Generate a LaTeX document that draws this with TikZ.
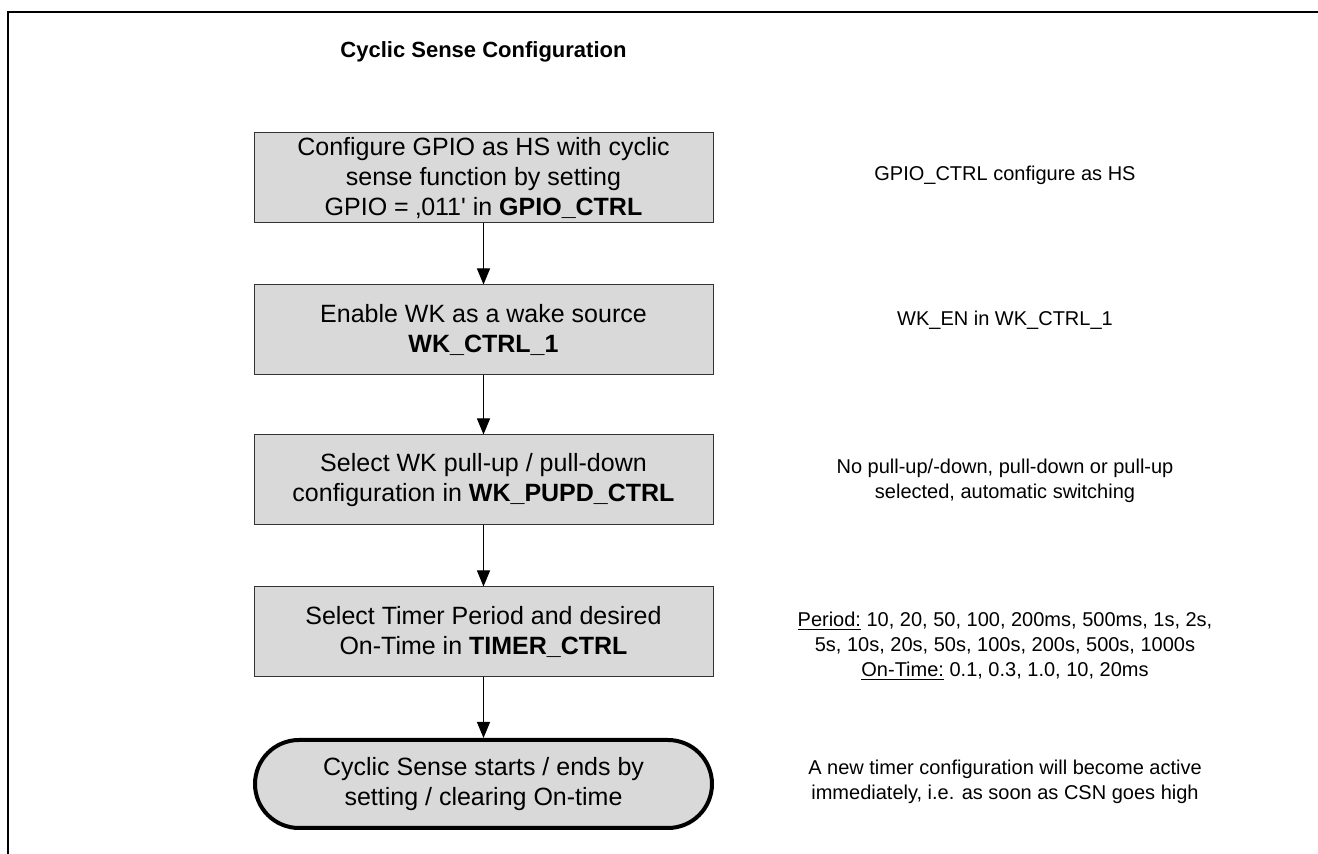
\documentclass[tikz,border=0pt]{standalone}
\usepackage{fontspec}
\setmainfont{Liberation Sans}
\usetikzlibrary{arrows.meta}
\begin{document}
\begin{tikzpicture}[x=0.5pt,y=-0.5pt,
  etape/.style={draw=black!80,fill=black!15,line width=0.5pt,minimum width=229.5pt,minimum height=45pt,inner sep=0pt,align=center,font=\fontsize{12.5}{15}\selectfont},
  fin/.style={etape,draw=black,line width=2pt,rounded corners=22pt,minimum width=228.5pt,minimum height=44pt},
  note/.style={align=center,font=\fontsize{10}{12.5}\selectfont},
  fleche/.style={-{Triangle[length=8pt,width=6.5pt]},line width=0.5pt}]

\useasboundingbox (0,0) rectangle (1318,854);

% cadre
\draw[line width=0.6pt] (1318,12) -- (8,12) -- (8,854);

\node[font=\bfseries\fontsize{11}{13}\selectfont] (titre) at (483.5,52) {Cyclic Sense Configuration};

% etapes (a gauche)
\node[etape] (gpio) at (483.5,178) {Configure GPIO as HS with cyclic\\sense function by setting\\GPIO = ‚011\textquotesingle{} in \textbf{GPIO\_CTRL}};
\node[etape] (wk) at (483.5,330) {Enable WK as a wake source\\\textbf{WK\_CTRL\_1}};
\node[etape] (pupd) at (483.5,480) {Select WK pull-up / pull-down\\configuration in \textbf{WK\_PUPD\_CTRL}};
\node[etape] (timer) at (483.5,632) {Select Timer Period and desired\\On-Time in \textbf{TIMER\_CTRL}};
\node[fin] (start) at (483.5,784) {Cyclic Sense starts / ends by\\setting / clearing On-time};

\draw[fleche] (gpio) -- (wk);
\draw[fleche] (wk) -- (pupd);
\draw[fleche] (pupd) -- (timer);
\draw[fleche] (timer) -- (start);

% remarques (a droite)
\node[note] (n1) at (1005,175) {GPIO\_CTRL configure as HS};
\node[note] (n2) at (1005,320) {WK\_EN in WK\_CTRL\_1};
\node[note] (n3) at (1005,481) {No pull-up/-down, pull-down or pull-up\\selected, automatic switching};
\node[note] (n4) at (1005,646) {\underline{Period:} 10, 20, 50, 100, 200ms, 500ms, 1s, 2s,\\5s, 10s, 20s, 50s, 100s, 200s, 500s, 1000s\\\underline{On-Time:} 0.1, 0.3, 1.0, 10, 20ms};
\node[note] (n5) at (1005,782) {A new timer configuration will become active\\immediately, i.e. as soon as CSN goes high};

\end{tikzpicture}
\end{document}
